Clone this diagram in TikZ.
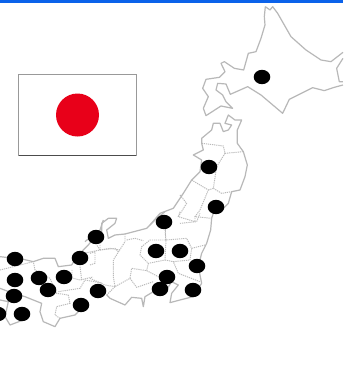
\documentclass[tikz,border=0pt]{standalone}
\definecolor{barblue}{RGB}{11,98,234}
\definecolor{sunred}{RGB}{232,0,25}
\tikzset{
 coast/.style={draw=black!28,line width=1.2pt,line join=round},
 pref/.style={draw=black!27,line width=0.95pt,dash pattern=on 1.2pt off 0.9pt},
 dot/.style={fill=black,draw=none},
 z1/.style={shift={(171,0)},x=0.3333pt,y=-0.3333pt},
 z2/.style={shift={(150,110)},x=0.3333pt,y=-0.3333pt},
 z3/.style={shift={(90,210)},x=0.3333pt,y=-0.3333pt},
 z4/.style={shift={(0,220)},x=0.3333pt,y=-0.3333pt}
}
\begin{document}
\begin{tikzpicture}[x=1pt,y=-1pt]
\useasboundingbox (0,0) rectangle (343,383);
\fill[white] (0,0) rectangle (343,383);
\fill[barblue] (0,0) rectangle (343,2.6);
% flag
\draw[black!40,line width=0.9pt,fill=white] (18.5,74.5) rectangle (136,155);
\draw[black!70,line width=0.9pt] (18.5,155) -- (136,155);
\fill[sunred] (77.5,115) circle (21.5);
% Hokkaido
\begin{scope}[z1]
\draw[coast] (283,20)--(280,50)--(282,75)--(270,115)--(255,155)--(232,160)--(218,210)--(190,205)--(160,185)--(150,190)--(162,215)--(145,232)--(105,238)--(95,265)--(112,290)--(97,325)--(105,347)--(150,318)--(185,325)--(165,305)--(155,285)--(135,270)--(140,250)--(165,252)--(178,283)--(230,260)--(270,285)--(335,340)--(355,298)--(425,263)--(460,272)--(490,262)--(516,255);
\draw[coast] (516,245)--(505,245)--(497,205)--(516,175);
\draw[coast] (516,157)--(480,185)--(450,180)--(405,150)--(360,110)--(320,40)--(305,20)--(297,30)--(283,20);
\end{scope}
% Tohoku
\begin{scope}[z2]
\draw[coast] (0,345)--(30,310)--(70,295)--(100,250)--(125,210)--(150,185)--(155,150)--(130,135)--(160,120)--(155,100)--(155,85)--(185,60)--(190,40)--(210,40)--(220,65)--(235,60)--(245,45)--(225,40)--(235,15)--(255,30)--(275,30)--(262,60)--(262,100)--(280,125)--(292,165)--(285,200)--(270,240)--(245,245)--(235,280)--(215,300)--(190,310)--(185,325);
\draw[pref] (155,100)--(220,108)--(225,130)--(280,125);
\draw[pref] (225,130)--(200,170)--(190,235)--(215,250)--(245,245);
\draw[pref] (125,210)--(175,240)--(150,300)--(135,320)--(185,325);
\draw[pref] (175,240)--(190,235);
\draw[pref] (90,255)--(110,280)--(85,320)--(135,335)--(135,320);
\draw[pref] (45,355)--(45,390);
\end{scope}
% Honshu central
\begin{scope}[z3]
\draw[coast] (-15,95)--(15,70)--(35,65)--(35,40)--(55,25)--(80,25)--(75,40)--(50,60)--(55,85)--(75,75)--(105,72)--(170,55)--(195,30)--(225,5);
\draw[coast] (365,25)--(362,60)--(350,100)--(335,130)--(325,170)--(335,220)--(310,260)--(270,270)--(240,278)--(245,250)--(265,225)--(245,215)--(220,255)--(190,245)--(165,260)--(160,290)--(155,265)--(125,262)--(105,285)--(60,265)--(50,255);
\draw[pref] (105,72)--(105,95)--(70,150)--(70,200)--(75,230)--(120,205)--(125,175)--(170,182)--(205,200);
\draw[pref] (225,60)--(228,90)--(225,150)--(175,160)--(150,135)--(155,110)--(180,90)--(228,90)--(290,85)--(305,115)--(300,150)--(250,155)--(265,190)--(330,215);
\draw[pref] (110,90)--(135,85)--(160,92);
\draw[pref] (225,150)--(250,155);
\draw[pref] (175,160)--(170,182);
\draw[pref] (120,205)--(140,232)--(190,215);
\draw[pref] (265,20)--(270,5);
\draw[pref] (270,40)--(320,35)--(330,10);
\draw[pref] (305,115)--(345,105);
\draw[pref] (0,130)--(15,125)--(15,160)--(0,165);
\draw[pref] (30,120)--(75,115)--(85,125);
\draw[pref] (30,120)--(20,105);
\draw[pref] (0,205)--(45,225)--(75,230);
\draw[pref] (50,255)--(75,230);
\end{scope}
% West
\begin{scope}[z4]
\draw[coast] (0,110)--(70,118)--(100,125)--(130,115)--(165,115)--(175,140)--(215,135)--(230,110)--(245,95)--(265,75)--(300,30)--(310,0);
\draw[coast] (0,205)--(40,220)--(75,230)--(125,250)--(120,275)--(130,305)--(165,320)--(180,295)--(225,285)--(245,265);
\draw[coast] (0,240)--(25,245)--(15,290)--(30,315)--(70,300);
\draw[pref] (0,150)--(60,135)--(100,125)--(105,150)--(150,175)--(170,220)--(205,225)--(210,250)--(170,260)--(165,285)--(180,295);
\draw[pref] (175,215)--(240,205)--(255,180)--(306,189);
\draw[pref] (216,150)--(216,174)--(240,180)--(279,171);
\draw[pref] (240,140)--(245,180);
\draw[pref] (250,100)--(300,90)--(300,30);
\draw[pref] (300,90)--(330,85)--(360,90);
\end{scope}
% dots
\foreach \px/\py in {262/77,209/167,216/207,164/222,96/237,80/258,15/259,15/280,39/278,64/277,48/290,14/296,22/314,-2/314,98/291,81/305,156/251,180/251,197/266,167/277,160/289,193/290}
  \fill[dot] (\px,\py) ellipse (8.3 and 7.2);
\end{tikzpicture}
\end{document}
